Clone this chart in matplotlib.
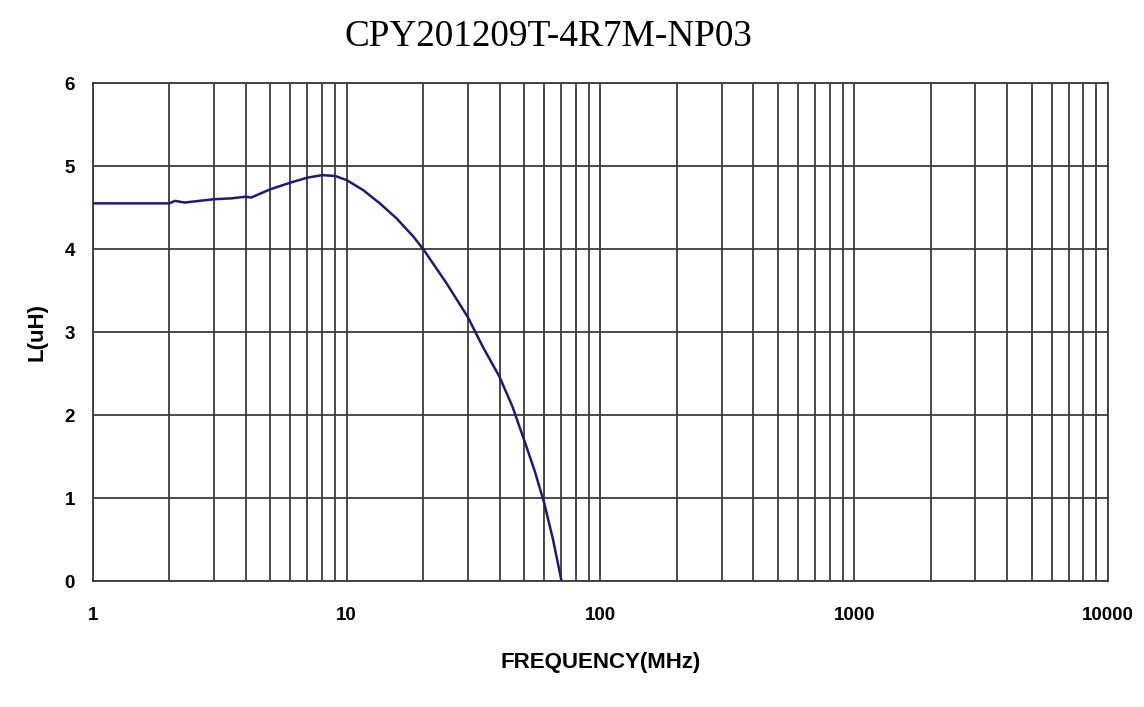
import matplotlib.pyplot as plt
from matplotlib.ticker import FixedLocator, NullFormatter

# frequency (MHz) and inductance (uH)
freq = [1, 1.5, 2, 2.1, 2.3, 3, 3.5, 4, 4.2, 5, 6, 7, 8, 9, 10,
        11.6, 13.5, 15.7, 18.3, 20, 24.7, 30, 34.4, 40, 45, 50, 55, 60, 65, 70]
induct = [4.55, 4.55, 4.55, 4.58, 4.56, 4.6, 4.61, 4.63, 4.62, 4.72, 4.8, 4.86, 4.89, 4.88, 4.83,
          4.71, 4.55, 4.37, 4.15, 4.0, 3.59, 3.18, 2.82, 2.46, 2.1, 1.7, 1.33, 0.94, 0.5, 0.02]

x_ticks = [1, 10, 100, 1000, 10000]
x_labels = ['1', '10', '100', '1000', '10000']
y_ticks = [0, 1, 2, 3, 4, 5, 6]

fig = plt.figure(figsize=(11.44, 7.07), dpi=100)
ax = fig.add_axes([0.0813, 0.1782, 0.8872, 0.7044])

ax.plot(freq, induct, color='#1c1c70', linewidth=1.8, zorder=3)

ax.set_xscale('log')
ax.set_xlim(1, 10000)
ax.set_ylim(0, 6)

minors = [m * 10 ** d for d in range(4) for m in range(2, 10)]
ax.xaxis.set_major_locator(FixedLocator(x_ticks))
ax.xaxis.set_minor_locator(FixedLocator(minors))
ax.xaxis.set_minor_formatter(NullFormatter())
ax.set_xticks(x_ticks)
ax.set_xticklabels(x_labels)
ax.set_yticks(y_ticks)

ax.grid(True, which='both', axis='x', color='#3a3a3a', linewidth=1.3)
ax.grid(True, which='major', axis='y', color='#3a3a3a', linewidth=1.3)
ax.tick_params(which='both', length=0)
ax.tick_params(axis='x', pad=19)
ax.tick_params(axis='y', pad=13)
for lab in ax.get_xticklabels() + ax.get_yticklabels():
    lab.set_fontweight('bold')
    lab.set_fontsize(13.5)
    lab.set_family('Liberation Sans')
for s in ax.spines.values():
    s.set_color('#3a3a3a')
    s.set_linewidth(1.3)

ax.set_xlabel('FREQUENCY(MHz)', fontsize=16, fontweight='bold', family='Liberation Sans', labelpad=20)
ax.set_ylabel('L(uH)', fontsize=16, fontweight='bold', family='Liberation Sans', labelpad=12)

fig.text(0.479, 0.948, 'CPY201209T-4R7M-NP03', ha='center', va='center',
         fontsize=26.8, family='Liberation Serif')

fig.savefig('out.png', dpi=100)
